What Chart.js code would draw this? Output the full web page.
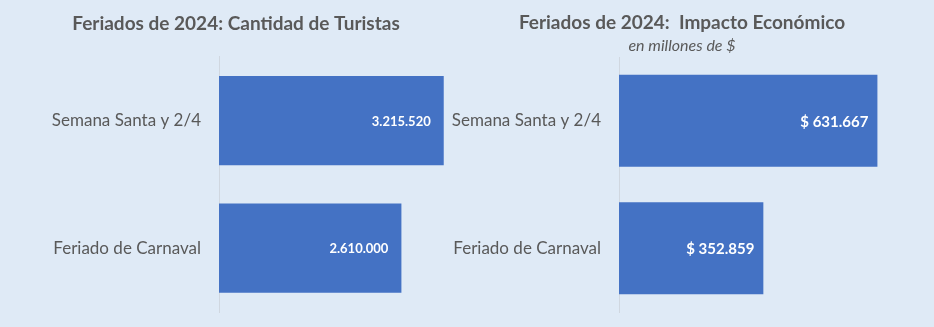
<!DOCTYPE html>
<html>
<head>
<meta charset="utf-8">
<script src="https://cdn.jsdelivr.net/npm/chart.js@4"></script>
<style>
  body { margin: 0; background: #dfeaf6; width: 934px; height: 327px; overflow: hidden; }
  canvas { position: absolute; top: 0; }
  #c1 { left: 0; }
  #c2 { left: 430px; }
</style>
</head>
<body>
<canvas id="c1" width="472" height="327"></canvas>
<canvas id="c2" width="504" height="327"></canvas>
<script>
// datos
const categorias = ["Semana Santa y 2/4", "Feriado de Carnaval"]
const turistas = [3215520, 2610000]
const impacto = [631667, 352859]

const fontName = "Lato"
const grisTexto = "#595959"
const azul = "#4472c4"

function fmtMiles(n) {
    return n.toString().replace(/\B(?=(\d{3})+(?!\d))/g, ".")
}

// etiquetas blancas dentro de la barra
const etiquetas = {
    id: "etiquetas",
    afterDatasetsDraw(chart, args, opts) {
        const ctx = chart.ctx
        const meta = chart.getDatasetMeta(0)
        ctx.save()
        ctx.fillStyle = "#ffffff"
        ctx.font = "bold " + opts.size + "px " + fontName
        ctx.textAlign = "right"
        ctx.textBaseline = "middle"
        meta.data.forEach((bar, i) => {
            const v = chart.data.datasets[0].data[i]
            ctx.fillText(opts.prefijo + fmtMiles(v), bar.x - opts.pad, bar.y + 1)
        })
        ctx.restore()
    }
}

function hacerGrafico(id, valores, max, ejeIzq, titulo, subtitulo, pad, barPct) {
    const ctx = document.getElementById(id).getContext("2d")
    return new Chart(ctx, {
        type: "bar",
        data: {
            labels: categorias,
            datasets: [{
                data: valores,
                backgroundColor: azul,
                barPercentage: barPct,
                categoryPercentage: 1
            }]
        },
        plugins: [etiquetas],
        options: {
            indexAxis: "y",
            responsive: false,
            animation: false,
            layout: { padding: { left: 0, right: 0, top: 0, bottom: pad.abajo } },
            scales: {
                x: { display: false, min: 0, max: max },
                y: {
                    grid: { display: false, drawTicks: false },
                    border: { display: true, color: "#d0d7e0", width: 1 },
                    ticks: { color: grisTexto, font: { family: fontName, size: 17 }, padding: 18 },
                    afterFit: (scale) => {
                        scale.width = ejeIzq
                        scale.paddingTop = 0
                        scale.paddingBottom = 0
                    }
                }
            },
            plugins: {
                legend: { display: false },
                tooltip: { enabled: false },
                title: {
                    display: true,
                    text: titulo,
                    color: grisTexto,
                    font: { family: fontName, size: 19, weight: "bold" },
                    padding: pad.title
                },
                subtitle: {
                    display: !!subtitulo,
                    text: subtitulo,
                    color: grisTexto,
                    font: { family: fontName, size: 16, style: "italic" },
                    padding: pad.sub
                },
                etiquetas: pad.etq
            }
        }
    })
}

hacerGrafico("c1", turistas, 3620000, 219,
    "Feriados de 2024: Cantidad de Turistas", "",
    { title: { top: 12, bottom: 22 }, sub: 0, abajo: 15, etq: { prefijo: "", pad: 13, size: 13 } }, 0.7)

hacerGrafico("c2", impacto, 770000, 189,
    "Feriados de 2024:  Impacto Económico", "en millones de $",
    { title: { top: 11, bottom: 1 }, sub: { top: 1, bottom: 2 }, abajo: 15, etq: { prefijo: "$ ", pad: 9, size: 15 } }, 0.72)
</script>
</body>
</html>
